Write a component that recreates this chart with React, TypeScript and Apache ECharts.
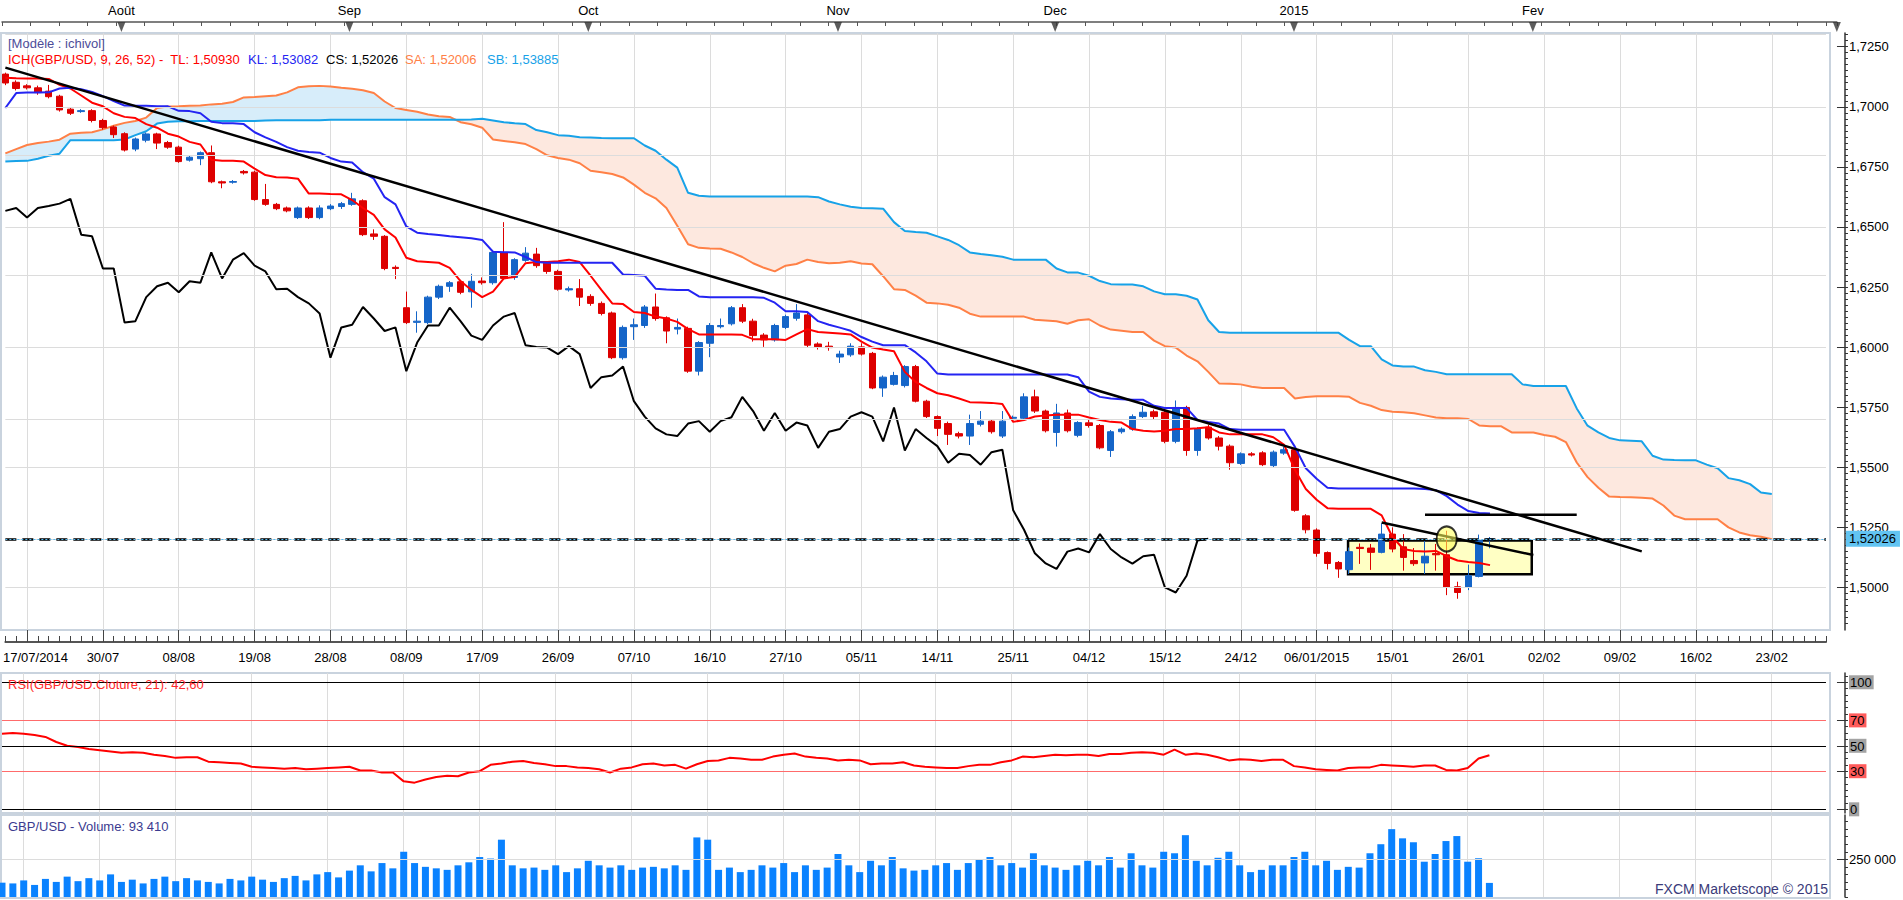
import React, { useEffect, useRef } from 'react';
import * as echarts from 'echarts';

const FONT = 'Liberation Sans, Arial, Helvetica, sans-serif';

const DATE_LABELS = ['17/07/2014', '30/07', '08/08', '19/08', '28/08', '08/09', '17/09', '26/09', '07/10', '16/10', '27/10', '05/11', '14/11', '25/11', '04/12', '15/12', '24/12', '06/01/2015', '15/01', '26/01', '02/02', '09/02', '16/02', '23/02'];
const MONTH_LABELS = ['Août', 'Sep', 'Oct', 'Nov', 'Dec', '2015', 'Fev'];
const MONTH_BARS = [11, 32, 54, 77, 97, 119, 141];
const MONTH_MARKERS = [11, 32, 54, 77, 97, 119, 141, 169];

// [open, close, low, high]
const CANDLES: number[][] = [
  [1.7136, 1.7099, 1.7090, 1.7142], [1.7102, 1.7076, 1.7068, 1.7110], [1.7087, 1.7079, 1.7072, 1.7094], [1.7079, 1.7059, 1.7050, 1.7088], [1.7065, 1.7042, 1.7035, 1.7091],
  [1.7044, 1.6987, 1.6980, 1.7050], [1.6990, 1.6973, 1.6966, 1.6996], [1.6980, 1.6984, 1.6975, 1.6990], [1.6984, 1.6943, 1.6935, 1.6990], [1.6943, 1.6913, 1.6905, 1.6950],
  [1.6916, 1.6884, 1.6870, 1.6922], [1.6888, 1.6820, 1.6814, 1.6894], [1.6824, 1.6866, 1.6815, 1.6872], [1.6861, 1.6887, 1.6852, 1.6893], [1.6887, 1.6849, 1.6824, 1.6892],
  [1.6851, 1.6832, 1.6825, 1.6858], [1.6832, 1.6772, 1.6767, 1.6838], [1.6778, 1.6790, 1.6772, 1.6796], [1.6784, 1.6809, 1.6757, 1.6814], [1.6809, 1.6688, 1.6682, 1.6839],
  [1.6688, 1.6683, 1.6661, 1.6693], [1.6686, 1.6689, 1.6680, 1.6695], [1.6731, 1.6725, 1.6718, 1.6737], [1.6728, 1.6614, 1.6609, 1.6734], [1.6614, 1.6594, 1.6588, 1.6679],
  [1.6594, 1.6576, 1.6570, 1.6600], [1.6579, 1.6567, 1.6561, 1.6585], [1.6539, 1.6579, 1.6533, 1.6585], [1.6579, 1.6539, 1.6533, 1.6586], [1.6539, 1.6579, 1.6532, 1.6590],
  [1.6576, 1.6587, 1.6570, 1.6595], [1.6585, 1.6597, 1.6575, 1.6604], [1.6594, 1.6617, 1.6588, 1.6642], [1.6609, 1.6468, 1.6462, 1.6615], [1.6471, 1.6461, 1.6446, 1.6490],
  [1.6461, 1.6327, 1.6320, 1.6466], [1.6332, 1.6327, 1.6283, 1.6340], [1.6164, 1.6102, 1.6096, 1.6231], [1.6103, 1.6108, 1.6060, 1.6149], [1.6102, 1.6208, 1.6095, 1.6214],
  [1.6208, 1.6253, 1.6200, 1.6260], [1.6253, 1.6268, 1.6230, 1.6275], [1.6272, 1.6228, 1.6220, 1.6280], [1.6230, 1.6274, 1.6164, 1.6305], [1.6275, 1.6268, 1.6260, 1.6290],
  [1.6268, 1.6394, 1.6260, 1.6400], [1.6394, 1.6286, 1.6280, 1.6520], [1.6290, 1.6364, 1.6280, 1.6370], [1.6361, 1.6391, 1.6355, 1.6416], [1.6387, 1.6339, 1.6330, 1.6413],
  [1.6349, 1.6315, 1.6305, 1.6358], [1.6315, 1.6241, 1.6235, 1.6322], [1.6238, 1.6243, 1.6231, 1.6252], [1.6243, 1.6208, 1.6171, 1.6283], [1.6211, 1.6182, 1.6172, 1.6220],
  [1.6182, 1.6140, 1.6132, 1.6190], [1.6142, 1.5956, 1.5950, 1.6148], [1.5956, 1.6082, 1.5948, 1.6090], [1.6085, 1.6093, 1.6030, 1.6119], [1.6090, 1.6167, 1.6080, 1.6175],
  [1.6167, 1.6119, 1.6110, 1.6223], [1.6122, 1.6067, 1.6016, 1.6128], [1.6075, 1.6082, 1.6053, 1.6119], [1.6078, 1.5900, 1.5893, 1.6085], [1.5900, 1.6019, 1.5882, 1.6025],
  [1.6016, 1.6090, 1.5958, 1.6100], [1.6085, 1.6090, 1.6078, 1.6119], [1.6097, 1.6164, 1.6090, 1.6171], [1.6164, 1.6108, 1.6100, 1.6179], [1.6108, 1.6048, 1.6023, 1.6118],
  [1.6050, 1.6030, 1.6001, 1.6058], [1.6030, 1.6090, 1.6023, 1.6097], [1.6082, 1.6127, 1.6075, 1.6135], [1.6120, 1.6142, 1.6110, 1.6179], [1.6134, 1.6008, 1.6000, 1.6142],
  [1.6013, 1.6001, 1.5990, 1.6020], [1.6004, 1.5998, 1.5985, 1.6022], [1.5959, 1.5971, 1.5934, 1.5985], [1.5968, 1.6004, 1.5960, 1.6016], [1.6001, 1.5971, 1.5965, 1.6016],
  [1.5974, 1.5830, 1.5825, 1.5980], [1.5830, 1.5875, 1.5793, 1.5882], [1.5845, 1.5882, 1.5840, 1.5897], [1.5840, 1.5919, 1.5832, 1.5925], [1.5919, 1.5775, 1.5770, 1.5926],
  [1.5775, 1.5711, 1.5705, 1.5781], [1.5711, 1.5662, 1.5630, 1.5716], [1.5682, 1.5637, 1.5593, 1.5690], [1.5640, 1.5630, 1.5620, 1.5648], [1.5630, 1.5682, 1.5593, 1.5719],
  [1.5679, 1.5692, 1.5670, 1.5734], [1.5692, 1.5648, 1.5640, 1.5700], [1.5630, 1.5692, 1.5622, 1.5734], [1.5704, 1.5708, 1.5695, 1.5715], [1.5704, 1.5793, 1.5698, 1.5808],
  [1.5793, 1.5734, 1.5726, 1.5823], [1.5734, 1.5652, 1.5645, 1.5740], [1.5645, 1.5726, 1.5586, 1.5764], [1.5726, 1.5652, 1.5645, 1.5740], [1.5633, 1.5686, 1.5625, 1.5692],
  [1.5685, 1.5674, 1.5665, 1.5700], [1.5674, 1.5581, 1.5575, 1.5680], [1.5570, 1.5648, 1.5543, 1.5655], [1.5648, 1.5659, 1.5640, 1.5666], [1.5659, 1.5711, 1.5652, 1.5720],
  [1.5711, 1.5729, 1.5705, 1.5756], [1.5731, 1.5711, 1.5700, 1.5740], [1.5729, 1.5608, 1.5600, 1.5740], [1.5608, 1.5749, 1.5600, 1.5778], [1.5749, 1.5570, 1.5548, 1.5756],
  [1.5570, 1.5659, 1.5548, 1.5667], [1.5667, 1.5622, 1.5615, 1.5677], [1.5622, 1.5588, 1.5570, 1.5630], [1.5588, 1.5519, 1.5490, 1.5595], [1.5516, 1.5556, 1.5510, 1.5562],
  [1.5556, 1.5551, 1.5545, 1.5563], [1.5560, 1.5511, 1.5505, 1.5567], [1.5507, 1.5563, 1.5500, 1.5570], [1.5559, 1.5573, 1.5552, 1.5585], [1.5573, 1.5321, 1.5315, 1.5580],
  [1.5298, 1.5240, 1.5225, 1.5305], [1.5239, 1.5142, 1.5128, 1.5246], [1.5145, 1.5100, 1.5075, 1.5150], [1.5104, 1.5077, 1.5040, 1.5110], [1.5074, 1.5149, 1.5056, 1.5166],
  [1.5167, 1.5162, 1.5098, 1.5183], [1.5164, 1.5146, 1.5073, 1.5181], [1.5146, 1.5222, 1.5142, 1.5267], [1.5222, 1.5160, 1.5146, 1.5250], [1.5169, 1.5125, 1.5070, 1.5222],
  [1.5112, 1.5099, 1.5090, 1.5164], [1.5102, 1.5130, 1.5056, 1.5194], [1.5141, 1.5136, 1.5070, 1.5181], [1.5136, 1.5000, 1.4968, 1.5236], [1.5003, 1.4979, 1.4953, 1.5024],
  [1.5000, 1.5049, 1.4989, 1.5095], [1.5046, 1.5195, 1.5042, 1.5220], [1.5196, 1.52026, 1.5163, 1.5210],
];

const TENKAN = [
  1.7121, 1.7119, 1.7118, 1.7118, 1.7116, 1.7091, 1.7076, 1.7047, 1.7017, 1.7002,
  1.6973, 1.6958, 1.6953, 1.6928, 1.6913, 1.6888, 1.6876, 1.6854, 1.6843, 1.6780,
  1.6775, 1.6775, 1.6772, 1.6743, 1.6716, 1.6707, 1.6706, 1.6701, 1.6639, 1.6639,
  1.6637, 1.6636, 1.6612, 1.6579, 1.6550, 1.6490, 1.6456, 1.6372, 1.6357, 1.6354,
  1.6351, 1.6330, 1.6275, 1.6238, 1.6208, 1.6231, 1.6286, 1.6292, 1.6349, 1.6354,
  1.6354, 1.6357, 1.6364, 1.6354, 1.6297, 1.6238, 1.6182, 1.6179, 1.6146, 1.6142,
  1.6127, 1.6119, 1.6105, 1.6075, 1.6053, 1.6053, 1.6053, 1.6053, 1.6051, 1.6033,
  1.6033, 1.6033, 1.6030, 1.6053, 1.6075, 1.6063, 1.6060, 1.6057, 1.6053, 1.6023,
  1.5998, 1.5990, 1.5983, 1.5897, 1.5855, 1.5830, 1.5808, 1.5800, 1.5786, 1.5771,
  1.5770, 1.5768, 1.5763, 1.5689, 1.5697, 1.5711, 1.5716, 1.5719, 1.5719, 1.5719,
  1.5707, 1.5697, 1.5689, 1.5686, 1.5659, 1.5652, 1.5649, 1.5652, 1.5659, 1.5659,
  1.5662, 1.5667, 1.5645, 1.5637, 1.5637, 1.5637, 1.5637, 1.5625, 1.5593, 1.5489,
  1.5410, 1.5365, 1.5330, 1.5327, 1.5327, 1.5327, 1.5327, 1.5300, 1.5210, 1.5160,
  1.5152, 1.5150, 1.5152, 1.5130, 1.5112, 1.5106, 1.5102, 1.5093,
];

const KIJUN = [
  1.6995, 1.7057, 1.7059, 1.7059, 1.7060, 1.7076, 1.7079, 1.7073, 1.7062, 1.7044,
  1.7024, 1.7005, 1.7004, 1.7004, 1.7002, 1.7002, 1.6983, 1.6982, 1.6973, 1.6938,
  1.6932, 1.6931, 1.6928, 1.6894, 1.6873, 1.6854, 1.6832, 1.6817, 1.6812, 1.6809,
  1.6787, 1.6772, 1.6768, 1.6728, 1.6701, 1.6624, 1.6594, 1.6502, 1.6476, 1.6471,
  1.6467, 1.6461, 1.6457, 1.6453, 1.6446, 1.6397, 1.6395, 1.6394, 1.6375, 1.6354,
  1.6351, 1.6351, 1.6351, 1.6351, 1.6351, 1.6351, 1.6351, 1.6302, 1.6300, 1.6297,
  1.6243, 1.6240, 1.6238, 1.6238, 1.6211, 1.6208, 1.6208, 1.6208, 1.6208, 1.6208,
  1.6205, 1.6185, 1.6149, 1.6149, 1.6146, 1.6108, 1.6093, 1.6081, 1.6068, 1.6042,
  1.6023, 1.6008, 1.6008, 1.6008, 1.5978, 1.5941, 1.5890, 1.5886, 1.5886, 1.5886,
  1.5886, 1.5886, 1.5886, 1.5886, 1.5886, 1.5886, 1.5886, 1.5886, 1.5886, 1.5875,
  1.5815, 1.5793, 1.5786, 1.5783, 1.5781, 1.5781, 1.5756, 1.5747, 1.5747, 1.5747,
  1.5697, 1.5689, 1.5682, 1.5659, 1.5656, 1.5656, 1.5656, 1.5656, 1.5656, 1.5585,
  1.5496, 1.5452, 1.5415, 1.5412, 1.5412, 1.5412, 1.5412, 1.5412, 1.5412, 1.5412,
  1.5412, 1.5410, 1.5405, 1.5380, 1.5345, 1.5318, 1.5310, 1.53082,
];

// Senkou spans, already displaced 26 bars forward (index = bar where drawn)
const SENKOU_A = [
  1.6806, 1.6824, 1.6841, 1.6849, 1.6855, 1.6863, 1.6888, 1.6892, 1.6894, 1.6906,
  1.6921, 1.6933, 1.6941, 1.6955, 1.6995, 1.7001, 1.7002, 1.7004, 1.7005, 1.7010,
  1.7013, 1.7020, 1.7039, 1.7041, 1.7044, 1.7047, 1.7060, 1.7081, 1.7085, 1.7087,
  1.7084, 1.7079, 1.7075, 1.7069, 1.7057, 1.7022, 1.6995, 1.6987, 1.6979, 1.6968,
  1.6961, 1.6958, 1.6936, 1.6927, 1.6913, 1.6864, 1.6858, 1.6852, 1.6845, 1.6824,
  1.6798, 1.6787, 1.6780, 1.6765, 1.6734, 1.6728, 1.6720, 1.6706, 1.6676, 1.6642,
  1.6619, 1.6579, 1.6505, 1.6428, 1.6413, 1.6410, 1.6409, 1.6394, 1.6375, 1.6349,
  1.6330, 1.6315, 1.6339, 1.6346, 1.6364, 1.6354, 1.6349, 1.6351, 1.6357, 1.6348,
  1.6345, 1.6295, 1.6241, 1.6238, 1.6214, 1.6185, 1.6182, 1.6176, 1.6164, 1.6139,
  1.6127, 1.6127, 1.6127, 1.6127, 1.6127, 1.6114, 1.6111, 1.6108, 1.6097, 1.6112,
  1.6116, 1.6090, 1.6073, 1.6068, 1.6063, 1.6063, 1.6027, 1.6004, 1.5998, 1.5965,
  1.5941, 1.5897, 1.5849, 1.5848, 1.5845, 1.5835, 1.5830, 1.5830, 1.5830, 1.5786,
  1.5792, 1.5796, 1.5796, 1.5796, 1.5793, 1.5768, 1.5756, 1.5738, 1.5731, 1.5729,
  1.5725, 1.5716, 1.5707, 1.5704, 1.5704, 1.5701, 1.5674, 1.5671, 1.5671, 1.5645,
  1.5645, 1.5645, 1.5634, 1.5627, 1.5605, 1.5520, 1.5459, 1.5415, 1.5378, 1.5376,
  1.5375, 1.5373, 1.5370, 1.5341, 1.5299, 1.5284, 1.5284, 1.5284, 1.5284, 1.5250,
  1.5229, 1.5217, 1.5211, 1.52006,
];

const SENKOU_B = [
  1.6772, 1.6774, 1.6775, 1.6784, 1.6796, 1.6805, 1.6861, 1.6861, 1.6861, 1.6861,
  1.6861, 1.6864, 1.6882, 1.6898, 1.6930, 1.6938, 1.6940, 1.6940, 1.6941, 1.6941,
  1.6941, 1.6941, 1.6941, 1.6941, 1.6943, 1.6944, 1.6944, 1.6944, 1.6944, 1.6944,
  1.6946, 1.6946, 1.6946, 1.6946, 1.6946, 1.6946, 1.6946, 1.6946, 1.6946, 1.6946,
  1.6946, 1.6946, 1.6946, 1.6947, 1.6950, 1.6943, 1.6936, 1.6931, 1.6928, 1.6903,
  1.6894, 1.6882, 1.6879, 1.6873, 1.6872, 1.6870, 1.6869, 1.6869, 1.6869, 1.6839,
  1.6817, 1.6780, 1.6747, 1.6642, 1.6630, 1.6627, 1.6627, 1.6627, 1.6627, 1.6627,
  1.6627, 1.6627, 1.6627, 1.6627, 1.6627, 1.6624, 1.6606, 1.6594, 1.6584, 1.6579,
  1.6578, 1.6576, 1.6520, 1.6483, 1.6479, 1.6476, 1.6461, 1.6446, 1.6424, 1.6394,
  1.6387, 1.6382, 1.6376, 1.6364, 1.6364, 1.6364, 1.6364, 1.6327, 1.6311, 1.6310,
  1.6297, 1.6275, 1.6262, 1.6261, 1.6261, 1.6253, 1.6232, 1.6220, 1.6220, 1.6214,
  1.6198, 1.6112, 1.6063, 1.6060, 1.6060, 1.6060, 1.6060, 1.6060, 1.6060, 1.6060,
  1.6060, 1.6060, 1.6060, 1.6060, 1.6030, 1.6004, 1.6004, 1.5949, 1.5924, 1.5919,
  1.5919, 1.5904, 1.5897, 1.5887, 1.5887, 1.5887, 1.5887, 1.5887, 1.5887, 1.5887,
  1.5845, 1.5838, 1.5838, 1.5838, 1.5838, 1.5745, 1.5673, 1.5645, 1.5622, 1.5612,
  1.5610, 1.5608, 1.5548, 1.5532, 1.5530, 1.5529, 1.5529, 1.5511, 1.5496, 1.5455,
  1.5446, 1.5430, 1.5395, 1.53885,
];

const RSI = [
  59.5, 60, 59.5, 58.5, 57, 53, 50, 49, 47.5, 46.5,
  45.5, 44.5, 45, 44.5, 43, 42, 40.5, 41, 41, 37.5,
  37, 36.5, 36, 33.5, 33, 32.5, 32, 32.5, 31.5, 32,
  32.5, 33, 33.5, 30.5, 30.5, 29, 29, 22, 21, 23.5,
  25.5, 26.5, 26, 29, 30, 35, 36, 37.5, 38, 36.5,
  35.5, 34, 34, 33, 32.5, 31.5, 29, 32, 33, 35.5,
  36, 34.5, 35, 32, 35.5, 38, 38.5, 40.5, 40, 39,
  39, 41.5, 43, 44, 41.5, 40.5, 40, 38.5, 39, 38.5,
  35.5, 36, 36, 37, 34.5, 33.5, 33, 32.5, 32.5, 34,
  35, 35, 37, 38.5, 41.5, 41, 42, 43, 42.5, 43,
  43, 42, 43.5, 43.5, 44.5, 45, 44.5, 43, 47, 43,
  44, 43, 41, 38.5, 39.5, 39, 38, 39, 39, 34,
  33, 31.5, 31, 30.5, 32.5, 33, 33, 35, 34.5, 34,
  33.5, 34.5, 34.5, 31, 30.5, 32.5, 40, 42.6,
];

const VOLUME = [
  95000, 90000, 110000, 80000, 120000, 100000, 135000, 105000, 125000, 110000,
  150000, 100000, 115000, 90000, 120000, 135000, 105000, 125000, 110000, 100000,
  90000, 120000, 110000, 135000, 115000, 100000, 125000, 140000, 110000, 150000,
  165000, 130000, 175000, 210000, 170000, 225000, 190000, 300000, 225000, 200000,
  190000, 180000, 210000, 230000, 265000, 255000, 380000, 210000, 190000, 195000,
  180000, 210000, 165000, 190000, 240000, 210000, 195000, 210000, 180000, 195000,
  200000, 190000, 210000, 180000, 395000, 380000, 180000, 195000, 165000, 180000,
  210000, 195000, 225000, 165000, 210000, 180000, 195000, 285000, 210000, 165000,
  240000, 210000, 265000, 190000, 175000, 180000, 210000, 225000, 180000, 225000,
  250000, 265000, 210000, 225000, 195000, 290000, 210000, 195000, 180000, 210000,
  240000, 210000, 265000, 195000, 290000, 210000, 195000, 300000, 290000, 410000,
  240000, 210000, 260000, 300000, 210000, 165000, 180000, 210000, 210000, 265000,
  300000, 210000, 240000, 180000, 200000, 195000, 290000, 350000, 450000, 389000,
  363000, 234000, 285000, 371000, 404000, 234000, 257000, 93410,
];

const PRICE_TICKS = [1.5, 1.525, 1.55, 1.575, 1.6, 1.625, 1.65, 1.675, 1.7, 1.725];
const RSI_LEVELS = [0, 30, 50, 70, 100];
const VOLUME_TICKS = [250000];

// Drawn annotations, in data space: [bar, price]
const TRENDLINE = [[0, 1.7163], [151, 1.5150]];
const RESISTANCE = [[131, 1.5303], [145, 1.5303]];
const MINI_TREND = [[127, 1.5270], [141, 1.5135]];
const RANGE_BOX = [123.9, 1.5195, 140.85, 1.5055];
const CIRCLE_MARK = [133, 1.5202];
const ASK_LEVEL = 1.51985;

const N_CATS = 169;
const BAR_PX = 10.857;
const PLOT_W = (N_CATS - 1) * BAR_PX;
const Y_MIN = 1.4823;
const Y_MAX = 1.7307;

export default function App() {
  const ref = useRef<HTMLDivElement>(null);
  useEffect(() => {
    const chart = echarts.init(ref.current as HTMLDivElement, null, { renderer: 'svg' });
    const cats = Array.from({ length: N_CATS }, (_, i) => String(i));
    const closes = CANDLES.map((c) => c[1]);
    const chikou = closes.slice(26);
    const lastClose = closes[closes.length - 1];
    const cloudBase = SENKOU_A.map((a, i) => Math.min(a, SENKOU_B[i]));
    const cloudUp = SENKOU_A.map((a, i) => Math.max(a - SENKOU_B[i], 0));
    const cloudDown = SENKOU_A.map((a, i) => Math.max(SENKOU_B[i] - a, 0));
    const isMajor = (i: number) => i >= 2 && (i - 2) % 7 === 0;
    const isLabel = (i: number) => isMajor(i) && (i - 2) / 7 < DATE_LABELS.length;
    const fmtPrice = (v: number) => v.toFixed(4).replace('.', ',');
    const priceMinor: number[] = [];
    for (let v = 1.485; v <= Y_MAX + 1e-9; v += 0.0025) priceMinor.push(+v.toFixed(4));
    const rsiMinor: number[] = [];
    for (let v = 0; v <= 105; v += 5) rsiMinor.push(v);
    const volMinor: number[] = [];
    for (let v = 0; v <= 500000; v += 50000) volMinor.push(v);

    const textBase = { fontFamily: FONT, fontSize: 13, color: '#000' };
    const hiddenCat = (gridIndex: number) => ({
      type: 'category', gridIndex, data: cats, boundaryGap: false,
      axisLine: { show: false, onZero: false }, axisTick: { show: false }, axisLabel: { show: false },
      splitLine: { show: true, interval: (i: number) => isMajor(i), lineStyle: { color: '#dcdcdc', width: 1 } },
    });
    const rightAxis = (gridIndex: number, min: number, max: number) => ({
      type: 'value', gridIndex, position: 'right', offset: 19, min, max,
      axisLine: { show: false, onZero: false }, splitLine: { show: false },
    });

    const option: any = {
      animation: false,
      backgroundColor: '#ffffff',
      textStyle: { fontFamily: FONT },
      grid: [
        { left: 2, top: 33, width: PLOT_W, height: 597 },
        { left: 2, top: 22, width: PLOT_W * (N_CATS) / (N_CATS - 1), height: 11 },
        { left: 2, top: 673, width: PLOT_W, height: 140 },
        { left: 2, top: 815, width: PLOT_W, height: 82 },
      ],
      xAxis: [
        hiddenCat(0),
        {
          type: 'category', gridIndex: 0, data: cats, boundaryGap: false, position: 'bottom', offset: 12,
          axisLine: { show: false, onZero: false },
          axisTick: { show: true, interval: 0, inside: true, length: 6, lineStyle: { color: '#444' } },
          axisLabel: { show: false }, splitLine: { show: false },
        },
        {
          type: 'category', gridIndex: 0, data: cats, boundaryGap: false, position: 'bottom', offset: 12,
          axisLine: { show: true, onZero: false, lineStyle: { color: '#555', width: 2 } },
          axisTick: { show: true, interval: (i: number) => isMajor(i), inside: true, length: 12, lineStyle: { color: '#444' } },
          axisLabel: {
            show: true, interval: (i: number) => isLabel(i), margin: 9, ...textBase,
            formatter: (_v: string, i: number) => {
              const k = (i - 2) / 7;
              return k === 0 ? `{first|${DATE_LABELS[0]}}` : DATE_LABELS[k];
            },
            rich: { first: { ...textBase, padding: [0, 0, 0, 17] } },
          },
          splitLine: { show: false },
        },
        { type: 'value', gridIndex: 0, min: 0, max: N_CATS - 1, show: false },
        {
          type: 'value', gridIndex: 1, position: 'top', min: 0, max: N_CATS, interval: 2.625,
          axisLine: { show: true, onZero: false, lineStyle: { color: '#555', width: 1.5 } },
          axisTick: { show: true, inside: true, length: 4, lineStyle: { color: '#555' } },
          axisLabel: {
            customValues: MONTH_BARS, margin: 5, ...textBase,
            formatter: (v: number) => MONTH_LABELS[MONTH_BARS.indexOf(Math.round(v))] || '',
          },
          splitLine: { show: false },
        },
        hiddenCat(2),
        hiddenCat(3),
      ],
      yAxis: [
        {
          ...rightAxis(0, Y_MIN, Y_MAX),
          axisLine: { show: true, onZero: false, lineStyle: { color: '#333', width: 1.5 } },
          axisTick: { show: true, customValues: PRICE_TICKS, inside: true, length: 8, lineStyle: { color: '#333' } },
          axisLabel: { customValues: PRICE_TICKS, formatter: fmtPrice, margin: 4, ...textBase },
        },
        {
          ...rightAxis(0, Y_MIN, Y_MAX),
          axisTick: { show: true, customValues: priceMinor, inside: false, length: 3, lineStyle: { color: '#333' } },
          axisLabel: { show: false },
        },
        {
          ...rightAxis(0, Y_MIN, Y_MAX),
          axisTick: { show: false },
          axisLabel: {
            customValues: [lastClose], margin: 1, ...textBase,
            formatter: (v: number) => v.toFixed(5).replace('.', ','),
            backgroundColor: '#62c4f2', padding: [2, 4, 1, 3],
          },
        },
        {
          ...rightAxis(2, -2.9, 107.3),
          axisLine: { show: true, onZero: false, lineStyle: { color: '#333', width: 1.5 } },
          axisTick: { show: true, customValues: RSI_LEVELS, inside: true, length: 8, lineStyle: { color: '#333' } },
          axisLabel: {
            customValues: RSI_LEVELS, margin: 4, ...textBase,
            formatter: (v: number) => (v === 30 || v === 70 ? `{r|${v}}` : `{g|${v}}`),
            rich: {
              r: { ...textBase, backgroundColor: '#ff5b5b', padding: [1, 2, 0, 1] },
              g: { ...textBase, backgroundColor: '#a3a3a3', padding: [1, 2, 0, 1] },
            },
          },
        },
        {
          ...rightAxis(2, -2.9, 107.3),
          axisTick: { show: true, customValues: rsiMinor, inside: false, length: 3, lineStyle: { color: '#333' } },
          axisLabel: { show: false },
        },
        {
          ...rightAxis(3, 0, 543700),
          axisLine: { show: true, onZero: false, lineStyle: { color: '#333', width: 1.5 } },
          axisTick: { show: true, customValues: VOLUME_TICKS, inside: true, length: 8, lineStyle: { color: '#333' } },
          axisLabel: { customValues: VOLUME_TICKS, margin: 4, ...textBase, formatter: (v: number) => String(v).replace(/\B(?=(\d{3})+(?!\d))/g, ' ') },
        },
        {
          ...rightAxis(3, 0, 543700),
          axisTick: { show: true, customValues: volMinor, inside: false, length: 3, lineStyle: { color: '#333' } },
          axisLabel: { show: false },
        },
        { type: 'value', gridIndex: 1, min: 0, max: 1, show: false, axisLine: { onZero: false } },
      ],
      series: [
        {
          name: 'cloudBase', type: 'line', xAxisIndex: 0, yAxisIndex: 0, stack: 'cloud', data: cloudBase,
          symbol: 'none', lineStyle: { opacity: 0 }, z: 1, silent: true,
          markLine: {
            silent: true, symbol: ['none', 'none'], label: { show: false },
            lineStyle: { color: '#dcdcdc', width: 1, type: 'solid' },
            data: PRICE_TICKS.map((v) => ({ yAxis: v })),
          },
        },
        {
          name: 'cloudUp', type: 'line', xAxisIndex: 0, yAxisIndex: 0, stack: 'cloud', data: cloudUp,
          symbol: 'none', lineStyle: { opacity: 0 }, areaStyle: { color: '#d7edfa', opacity: 1 }, z: 1, silent: true,
        },
        {
          name: 'cloudDown', type: 'line', xAxisIndex: 0, yAxisIndex: 0, stack: 'cloud', data: cloudDown,
          symbol: 'none', lineStyle: { opacity: 0 }, areaStyle: { color: '#fde8df', opacity: 1 }, z: 1, silent: true,
        },
        { name: 'SA', type: 'line', xAxisIndex: 0, yAxisIndex: 0, data: SENKOU_A, symbol: 'none', lineStyle: { color: '#ff8046', width: 2 }, z: 3 },
        { name: 'SB', type: 'line', xAxisIndex: 0, yAxisIndex: 0, data: SENKOU_B, symbol: 'none', lineStyle: { color: '#17a2e8', width: 2 }, z: 3 },
        {
          name: 'box', type: 'custom', xAxisIndex: 3, yAxisIndex: 0, z: 2, data: [RANGE_BOX],
          encode: { x: [0, 2], y: [1, 3] },
          renderItem: (_p: any, api: any) => {
            const a = api.coord([api.value(0), api.value(1)]);
            const b = api.coord([api.value(2), api.value(3)]);
            return {
              type: 'rect',
              shape: { x: a[0], y: a[1], width: b[0] - a[0], height: b[1] - a[1] },
              style: { fill: '#ffffc4', stroke: '#000', lineWidth: 2.5 },
            };
          },
        },
        {
          name: 'GBP/USD', type: 'candlestick', xAxisIndex: 0, yAxisIndex: 0, data: CANDLES, barWidth: 7, z: 3,
          itemStyle: { color: '#1565c8', color0: '#dd0000', borderColor: '#1565c8', borderColor0: '#dd0000', borderWidth: 1 },
          markLine: {
            silent: true, symbol: ['none', 'none'], label: { show: false },
            data: [
              { yAxis: lastClose, lineStyle: { color: '#000', width: 2.5, type: [11, 6] } },
              { yAxis: ASK_LEVEL, lineStyle: { color: '#55b8ee', width: 1, type: [2, 2] } },
            ],
          },
        },
        { name: 'CS', type: 'line', xAxisIndex: 0, yAxisIndex: 0, data: chikou, symbol: 'none', lineStyle: { color: '#000', width: 2 }, z: 4 },
        { name: 'TL', type: 'line', xAxisIndex: 0, yAxisIndex: 0, data: TENKAN, symbol: 'none', lineStyle: { color: '#ff0000', width: 2 }, z: 4 },
        { name: 'KL', type: 'line', xAxisIndex: 0, yAxisIndex: 0, data: KIJUN, symbol: 'none', lineStyle: { color: '#2424f2', width: 2 }, z: 4 },
        { name: 'trend', type: 'line', xAxisIndex: 3, yAxisIndex: 0, data: TRENDLINE, symbol: 'none', lineStyle: { color: '#000', width: 2.5 }, z: 5 },
        { name: 'resist', type: 'line', xAxisIndex: 3, yAxisIndex: 0, data: RESISTANCE, symbol: 'none', lineStyle: { color: '#000', width: 2.5 }, z: 5 },
        { name: 'mini', type: 'line', xAxisIndex: 3, yAxisIndex: 0, data: MINI_TREND, symbol: 'none', lineStyle: { color: '#000', width: 2.5 }, z: 5 },
        {
          name: 'circle', type: 'scatter', xAxisIndex: 3, yAxisIndex: 0, data: [CIRCLE_MARK], symbol: 'circle', symbolSize: [20, 25],
          itemStyle: { color: 'rgba(255,255,90,0.72)', borderColor: '#000', borderWidth: 2 }, z: 6, clip: false,
        },
        {
          name: 'RSI', type: 'line', xAxisIndex: 5, yAxisIndex: 3, data: RSI, symbol: 'none', lineStyle: { color: '#ff0000', width: 2 }, z: 4,
          markLine: {
            silent: true, symbol: ['none', 'none'], label: { show: false },
            data: RSI_LEVELS.map((v) => ({ yAxis: v, lineStyle: { color: v === 30 || v === 70 ? '#ff6b6b' : '#000', width: 1.2, type: 'solid' } })),
          },
        },
        {
          name: 'Volume', type: 'bar', xAxisIndex: 6, yAxisIndex: 5, data: VOLUME, barWidth: 7, itemStyle: { color: '#0a82ff' }, z: 3,
          markLine: {
            silent: true, symbol: ['none', 'none'], label: { show: false },
            lineStyle: { color: '#dcdcdc', width: 1, type: 'solid' },
            data: VOLUME_TICKS.map((v) => ({ yAxis: v })),
          },
        },
        {
          name: 'months', type: 'scatter', xAxisIndex: 4, yAxisIndex: 7, data: MONTH_MARKERS.map((b) => [b, 0.55]),
          symbol: 'triangle', symbolRotate: 180, symbolSize: [8, 10], itemStyle: { color: '#333' }, clip: false, z: 5,
        },
      ],
      graphic: [
        { type: 'rect', silent: true, z: 0, shape: { x: 1, y: 33, width: 1829, height: 597 }, style: { fill: 'none', stroke: '#c9d3de', lineWidth: 2 } },
        { type: 'rect', silent: true, z: 0, shape: { x: 1, y: 673, width: 1829, height: 140 }, style: { fill: 'none', stroke: '#c9d3de', lineWidth: 2 } },
        { type: 'rect', silent: true, z: 0, shape: { x: 1, y: 815, width: 1829, height: 83 }, style: { fill: 'none', stroke: '#c9d3de', lineWidth: 2 } },
        { type: 'text', silent: true, z: 100, x: 8, y: 43, style: { text: '[Modèle : ichivol]', fill: '#4d4d99', font: `13px ${FONT}`, verticalAlign: 'middle' } },
        { type: 'text', silent: true, z: 100, x: 8, y: 59, style: { text: 'ICH(GBP/USD, 9, 26, 52) -  TL: 1,50930', fill: '#ff0000', font: `13px ${FONT}`, verticalAlign: 'middle' } },
        { type: 'text', silent: true, z: 100, x: 248, y: 59, style: { text: 'KL: 1,53082', fill: '#2424f2', font: `13px ${FONT}`, verticalAlign: 'middle' } },
        { type: 'text', silent: true, z: 100, x: 326, y: 59, style: { text: 'CS: 1,52026', fill: '#000000', font: `13px ${FONT}`, verticalAlign: 'middle' } },
        { type: 'text', silent: true, z: 100, x: 405, y: 59, style: { text: 'SA: 1,52006', fill: '#ff8046', font: `13px ${FONT}`, verticalAlign: 'middle' } },
        { type: 'text', silent: true, z: 100, x: 487, y: 59, style: { text: 'SB: 1,53885', fill: '#17a2e8', font: `13px ${FONT}`, verticalAlign: 'middle' } },
        { type: 'text', silent: true, z: 100, x: 8, y: 684, style: { text: 'RSI(GBP/USD.Cloture, 21): 42,60', fill: '#ff2a2a', font: `13px ${FONT}`, verticalAlign: 'middle' } },
        { type: 'text', silent: true, z: 100, x: 8, y: 826, style: { text: 'GBP/USD - Volume: 93 410', fill: '#3b3b8f', font: `13px ${FONT}`, verticalAlign: 'middle' } },
        { type: 'text', silent: true, z: 100, x: 1828, y: 889, style: { text: 'FXCM Marketscope © 2015', fill: '#3b3b7a', font: `14px ${FONT}`, align: 'right', verticalAlign: 'middle' } },
      ],
    };
    chart.setOption(option);
    return () => chart.dispose();
  }, []);
  return <div ref={ref} style={{ position: 'fixed', left: 0, top: 0, width: 1903, height: 900, background: '#fff' }} />;
}
